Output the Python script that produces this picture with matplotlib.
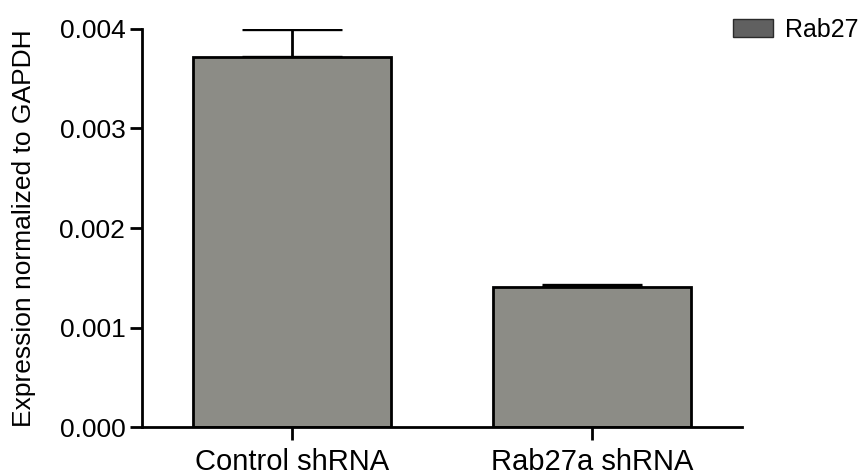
import matplotlib
matplotlib.use("Agg")
from matplotlib import pyplot as plt
from matplotlib.patches import Patch

plt.rcParams['font.family'] = ['Liberation Sans', 'DejaVu Sans']

groups = ['Control shRNA', 'Rab27a shRNA']
means = [0.00372, 0.00141]
errs = [0.00028, 0.00002]
series = 'Rab27'

fig = plt.figure(figsize=(8.64, 4.76), dpi=100)
ax = fig.add_axes([0.1644, 0.1029, 0.8588 - 0.1644, 0.9391 - 0.1029])

x = range(len(groups))
ax.bar(x, means, width=0.66, color='#8c8c86', edgecolor='black', linewidth=2, zorder=2)
ax.errorbar(x, means, yerr=[[0, 0], errs], fmt='none', ecolor='black',
            elinewidth=2, capsize=36, capthick=2.4, zorder=1)

ax.set_xlim(-0.5, 1.5)
ax.set_ylim(0, 0.004)
ax.set_yticks([0, 0.001, 0.002, 0.003, 0.004])
ax.set_yticklabels(['0.000', '0.001', '0.002', '0.003', '0.004'], fontsize=19)
ax.set_xticks(list(x))
ax.set_xticklabels(groups, fontsize=21)
ax.set_ylabel('Expression normalized to GAPDH', fontsize=19, labelpad=17)

for s in ['top', 'right']:
    ax.spines[s].set_visible(False)
for s in ['left', 'bottom']:
    ax.spines[s].set_linewidth(2)
ax.tick_params(direction='out', length=9, width=2, pad=3)
ax.tick_params(axis='x', pad=6)

fig.legend(handles=[Patch(facecolor='#606060', edgecolor='#2a2a2a', label=series)],
           loc='upper right', bbox_to_anchor=(1.02, 1.01), frameon=False,
           fontsize=18, handlelength=1.6, handleheight=0.7, handletextpad=0.5)

fig.savefig('out.png', dpi=100)
